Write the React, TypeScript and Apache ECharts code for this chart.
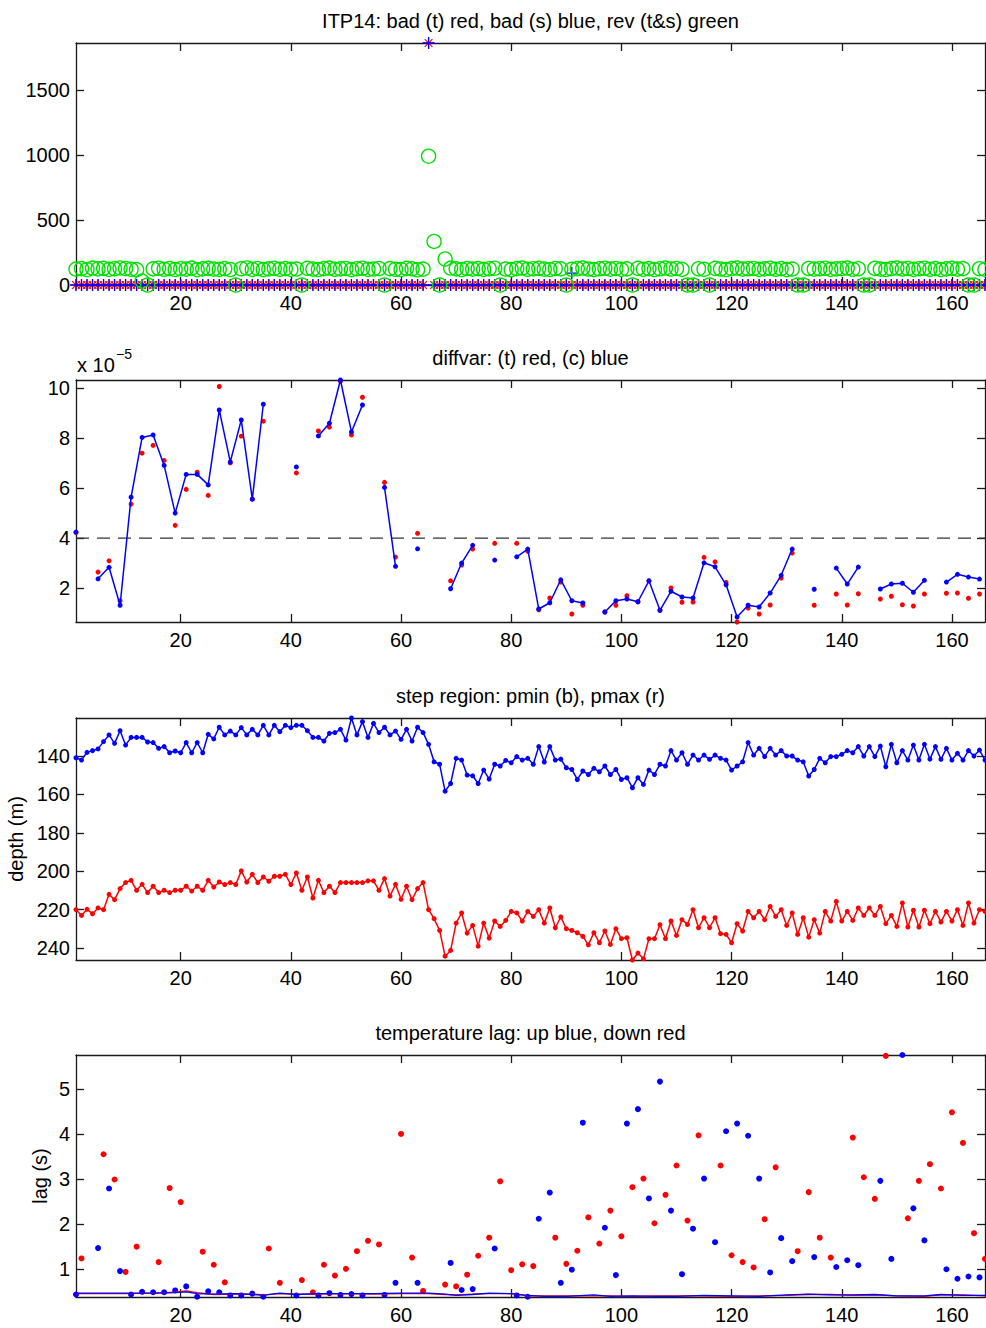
import React, { useEffect, useRef } from "react";
import * as echarts from "echarts";

const FONT = "'Liberation Sans', Arial, Helvetica, sans-serif";

// ---------- shared ----------
const profiles = Array.from({ length: 166 }, (_, i) => i + 1);
const oddProfiles = Array.from({ length: 83 }, (_, i) => 2 * i + 1);
const evenProfiles = Array.from({ length: 83 }, (_, i) => 2 * i + 2);
const xTicks = [20, 40, 60, 80, 100, 120, 140, 160];

// ---------- panel 1: bad / rev counts ----------
const titles = [
  "ITP14: bad (t) red, bad (s) blue, rev (t&s) green",
  "diffvar: (t) red, (c) blue",
  "step region: pmin (b), pmax (r)",
  "temperature lag: up blue, down red",
];
const p1YTicks = [0, 500, 1000, 1500];
const badT = [
  0, 0, 0, 0, 0, 0, 0, 0, 0, 0,
  0, 0, 0, 0, 0, 0, 0, 0, 0, 0,
  0, 0, 0, 0, 0, 0, 0, 0, 0, 0,
  0, 0, 0, 0, 0, 0, 0, 0, 0, 0,
  0, 0, 0, 0, 0, 0, 0, 0, 0, 0,
  0, 0, 0, 0, 0, 0, 0, 0, 0, 0,
  0, 0, 0, 0, 1860, 0, 0, 0, 0, 0,
  0, 0, 0, 0, 0, 0, 0, 0, 0, 0,
  0, 0, 0, 0, 0, 0, 0, 0, 0, 0,
  0, 0, 0, 0, 0, 0, 0, 0, 0, 0,
  0, 0, 0, 0, 0, 0, 0, 0, 0, 0,
  0, 0, 0, 0, 0, 0, 0, 0, 0, 0,
  0, 0, 0, 0, 0, 0, 0, 0, 0, 0,
  0, 0, 0, 0, 0, 0, 0, 0, 0, 0,
  0, 0, 0, 0, 0, 0, 0, 0, 0, 0,
  0, 0, 0, 0, 0, 0, 0, 0, 0, 0,
  0, 0, 0, 0, 0, 0,
];
const badS = [
  0, 0, 0, 0, 0, 0, 0, 0, 0, 0,
  0, 0, 0, 0, 0, 0, 0, 0, 0, 0,
  0, 0, 0, 0, 0, 0, 0, 0, 0, 0,
  0, 0, 0, 0, 0, 0, 0, 0, 0, 0,
  0, 0, 0, 0, 0, 0, 0, 0, 0, 0,
  0, 0, 0, 0, 0, 0, 0, 0, 0, 0,
  0, 0, 0, 0, 1860, 0, 0, 0, 0, 0,
  0, 0, 0, 0, 0, 0, 0, 0, 0, 0,
  0, 0, 0, 0, 0, 0, 0, 0, 0, 0,
  92, 0, 0, 0, 0, 0, 0, 0, 0, 0,
  0, 0, 0, 0, 0, 0, 0, 0, 0, 0,
  0, 0, 0, 0, 0, 0, 0, 0, 0, 0,
  0, 0, 0, 0, 0, 0, 0, 0, 0, 0,
  0, 0, 0, 0, 0, 0, 0, 0, 0, 0,
  0, 0, 0, 0, 0, 0, 0, 0, 0, 0,
  0, 0, 0, 0, 0, 0, 0, 0, 0, 0,
  0, 0, 0, 0, 0, 0,
];
const revTS = [
  122, 126, 119, 130, 124, 128, 120, 125, 131, 127,
  121, 118, 30, 0, 124, 129, 121, 127, 119, 125,
  122, 130, 118, 124, 128, 122, 120, 126, 119, 0,
  125, 131, 120, 127, 118, 124, 129, 121, 126, 120,
  123, 0, 128, 122, 119, 126, 130, 121, 124, 127,
  118, 125, 129, 120, 123, 127, 0, 126, 121, 119,
  128, 124, 117, 122, 990, 335, 0, 200, 130, 124,
  119, 127, 122, 126, 120, 125, 129, 0, 123, 118,
  126, 130, 121, 125, 128, 122, 119, 127, 124, 0,
  121, 126, 130, 123, 118, 125, 129, 122, 127, 120,
  124, 0, 128, 121, 126, 119, 125, 130, 123, 127,
  120, 0, 0, 125, 121, 0, 128, 123, 119, 126,
  130, 122, 125, 127, 120, 124, 129, 121, 126, 118,
  123, 0, 0, 127, 122, 125, 129, 120, 124, 126,
  130, 121, 125, 0, 0, 128, 122, 119, 126, 130,
  123, 127, 120, 125, 129, 121, 126, 118, 124, 128,
  122, 126, 0, 0, 125, 120,
];

// ---------- panel 2: diffvar (x 1e-5), odd profiles ----------
const p2YTicks = [2, 4, 6, 8, 10];
const diffThreshold = 4;
const diffT = [
  4.22, null, 2.64, 3.09, 1.49, 5.36, 7.4, 7.71, 7.11, 4.51,
  5.95, 6.64, 5.71, 10.07, 7.01, 8.08, 5.56, 8.68, null, null,
  6.61, null, 8.29, 8.44, 10.28, 8.13, 9.64, null, 6.23, 3.24,
  null, 4.19, null, null, 2.29, 2.92, 3.56, null, 3.79, null,
  3.79, 3.47, 1.13, 1.6, 2.24, 0.96, 1.31, null, 1.04, 1.31,
  1.69, 1.45, 2.29, 1.11, 2.0, 1.43, 1.44, 3.23, 3.05, 2.23,
  0.64, 1.2, 0.96, 1.32, 2.4, 3.4, null, 1.31, null, 1.76,
  1.32, 1.77, null, 1.56, 1.67, 1.33, 1.28, 1.76, null, 1.79,
  1.8, 1.59, 1.76,
];
const diffC = [
  4.24, null, 2.37, 2.83, 1.31, 5.64, 8.03, 8.13, 6.91, 5.0,
  6.55, 6.55, 6.13, 9.13, 7.05, 8.73, 5.56, 9.36, null, null,
  6.85, null, 8.09, 8.6, 10.33, 8.25, 9.33, null, 6.03, 2.87,
  null, 3.57, null, null, 1.97, 3.0, 3.71, null, 3.12, null,
  3.25, 3.56, 1.16, 1.41, 2.33, 1.49, 1.4, null, 1.04, 1.49,
  1.56, 1.45, 2.29, 1.11, 1.87, 1.64, 1.6, 3.01, 2.85, 2.13,
  0.84, 1.31, 1.24, 1.8, 2.51, 3.56, null, 1.95, null, 2.8,
  2.16, 2.84, null, 1.96, 2.16, 2.19, 1.83, 2.31, null, 2.24,
  2.55, 2.44, 2.36,
];

// ---------- panel 3: step region depths ----------
const p3YTicks = [140, 160, 180, 200, 220, 240];
const pmin = [
  140.9, 142.1, 138.1, 137.2, 136.3, 132.5, 129.0, 133.4, 126.8, 134.3,
  130.3, 130.3, 130.3, 132.7, 133.0, 136.0, 135.1, 138.3, 137.4, 138.3,
  133.0, 138.3, 133.0, 138.3, 128.7, 131.1, 125.0, 129.0, 127.0, 129.0,
  125.2, 129.0, 126.1, 129.0, 124.0, 129.0, 124.0, 127.3, 124.0, 125.2,
  124.0, 124.0, 126.8, 130.3, 130.3, 132.2, 128.2, 127.8, 126.1, 131.7,
  120.2, 129.0, 122.1, 130.3, 123.0, 127.8, 125.0, 129.0, 127.0, 131.3,
  126.1, 132.2, 125.0, 127.8, 133.9, 143.0, 144.3, 158.3, 154.3, 141.2,
  142.1, 149.9, 150.3, 154.3, 147.3, 152.0, 144.3, 145.2, 142.3, 143.5,
  140.3, 142.1, 141.2, 144.3, 135.1, 143.1, 135.1, 142.1, 141.6, 146.1,
  147.0, 152.2, 147.8, 149.6, 146.4, 148.2, 145.2, 149.6, 147.0, 152.2,
  151.3, 156.5, 151.3, 154.8, 147.3, 149.6, 144.3, 145.2, 137.2, 142.1,
  138.3, 144.3, 139.5, 142.1, 139.5, 141.7, 139.5, 141.2, 142.1, 147.3,
  145.2, 143.0, 133.0, 139.5, 136.0, 140.3, 136.0, 139.5, 137.2, 140.0,
  140.0, 142.1, 143.0, 150.4, 147.0, 141.2, 143.5, 140.3, 140.3, 139.1,
  137.2, 138.3, 135.1, 140.0, 135.1, 140.3, 134.8, 145.6, 133.9, 143.5,
  137.2, 142.1, 134.3, 142.1, 133.9, 141.6, 135.1, 141.7, 136.0, 142.1,
  138.6, 142.1, 137.2, 140.0, 136.9, 142.1,
];
const pmax = [
  220.0, 223.0, 219.8, 222.1, 219.1, 220.0, 212.0, 214.8, 209.0, 205.9,
  204.7, 209.9, 206.8, 211.1, 207.8, 211.1, 209.9, 211.1, 209.9, 209.9,
  207.8, 210.3, 207.8, 209.9, 204.7, 208.2, 205.6, 206.9, 205.9, 206.9,
  199.8, 205.6, 201.6, 205.9, 203.0, 205.2, 202.6, 202.6, 201.6, 206.9,
  200.9, 209.9, 203.0, 213.9, 204.7, 211.1, 207.8, 211.1, 205.9, 205.9,
  205.9, 205.9, 205.9, 205.0, 205.0, 209.9, 203.8, 212.9, 206.8, 214.6,
  207.8, 214.8, 209.0, 205.9, 220.0, 224.7, 230.8, 244.2, 241.2, 227.0,
  221.7, 232.2, 228.2, 239.0, 227.0, 234.8, 225.9, 228.7, 225.6, 220.9,
  221.7, 225.9, 220.9, 223.5, 220.0, 227.0, 219.1, 229.4, 223.8, 229.9,
  230.8, 232.0, 233.9, 238.3, 232.0, 237.2, 231.1, 238.1, 229.9, 235.1,
  234.6, 246.2, 242.6, 245.6, 235.1, 235.1, 227.8, 235.1, 225.9, 233.4,
  225.2, 227.7, 220.0, 229.4, 224.2, 229.4, 224.2, 232.5, 232.9, 237.2,
  227.3, 231.1, 220.9, 224.2, 220.9, 225.2, 218.3, 223.5, 220.0, 228.2,
  221.7, 232.9, 224.2, 234.3, 225.2, 232.2, 220.9, 225.9, 215.7, 225.9,
  220.9, 225.6, 219.1, 223.0, 219.1, 223.0, 218.3, 227.3, 223.0, 228.7,
  216.5, 229.0, 220.3, 229.0, 220.3, 227.3, 220.9, 226.4, 220.9, 225.9,
  220.0, 228.2, 216.5, 227.0, 220.0, 220.9,
];

// ---------- panel 4: temperature lag (s) ----------
const p4YTicks = [1, 2, 3, 4, 5];
const lagUp = [
  0.44, null, 1.47, 2.79, 0.96, 0.44, 0.5, 0.49, 0.49, 0.53,
  0.62, 0.39, 0.51, 0.49, 0.42, 0.42, 0.46, 0.39, null, null,
  0.42, null, 0.42, 0.47, 0.43, 0.45, 0.42, null, 0.43, 0.7,
  null, 0.7, null, null, 1.14, 0.54, 0.56, null, 1.46, null,
  0.42, 0.39, 2.12, 2.7, 0.7, 0.99, 4.25, null, 1.92, 0.87,
  4.23, 4.55, 2.57, 5.16, 2.3, 0.89, 1.9, 3.01, 1.6, 4.06,
  4.23, 3.96, 3.01, 0.93, 1.69, 1.18, null, 1.27, null, 1.05,
  1.2, 1.09, null, 2.96, 1.23, 5.75, 2.35, 1.64, null, 1.0,
  0.79, 0.84, 0.82,
];
const lagDown = [
  1.24, null, 3.55, 2.99, 0.94, 1.5, null, 1.16, 2.8, 2.49,
  null, 1.39, 1.1, 0.71, null, null, null, 1.46, 0.7, null,
  0.76, 0.49, 1.1, 0.86, 1.01, 1.4, 1.63, 1.55, null, 4.0,
  1.26, 0.52, null, 0.66, 0.62, 0.88, 1.3, 1.7, 2.95, 0.98,
  1.11, 1.07, null, 1.7, 1.12, 1.41, 2.15, 1.57, 2.3, 1.73,
  2.82, 3.01, 2.02, 2.65, 3.3, 2.08, 3.97, null, 3.3, 1.31,
  1.16, 1.04, 2.11, 3.26, null, 1.4, 2.71, 1.7, 1.26, null,
  3.92, 3.04, 2.56, 5.73, null, 2.13, 2.96, 3.33, 2.79, 4.48,
  3.8, 1.8, 1.23,
];
const lagLineX = [1, 5, 10, 15, 19, 21, 23, 26, 30, 33, 35, 38, 41, 45, 50, 55, 60, 65, 68, 70, 73, 76, 80, 83, 86, 90, 95, 98, 102, 106, 110, 115, 120, 125, 130, 134, 138, 142, 146, 150, 155, 158, 162, 166];
const lagLineUp = [0.47, 0.47, 0.47, 0.47, 0.48, 0.5, 0.46, 0.45, 0.46, 0.44, 0.42, 0.47, 0.44, 0.46, 0.46, 0.46, 0.47, 0.47, 0.45, 0.42, 0.44, 0.47, 0.46, 0.42, 0.4, 0.4, 0.43, 0.4, 0.41, 0.4, 0.4, 0.42, 0.41, 0.4, 0.43, 0.45, 0.43, 0.43, 0.44, 0.41, 0.41, 0.44, 0.42, 0.42];
const lagLineDown = [0.46, 0.46, 0.46, 0.47, 0.49, 0.52, 0.48, 0.44, 0.45, 0.45, 0.43, 0.46, 0.45, 0.45, 0.46, 0.45, 0.46, 0.46, 0.44, 0.43, 0.45, 0.46, 0.46, 0.41, 0.41, 0.41, 0.41, 0.41, 0.4, 0.41, 0.41, 0.41, 0.4, 0.41, 0.42, 0.44, 0.44, 0.42, 0.43, 0.41, 0.4, 0.43, 0.43, 0.41];

// ---------- layout ----------
const PLOT_LEFT = 76;
const PLOT_RIGHT_GAP = 1;
const PLOT_H = 242;
const panelTops = [43, 380, 718, 1055];
const yRanges: [number, number][] = [
  [0, 1860],
  [0.64, 10.33],
  [120.2, 246.2],
  [0.385, 5.75],
];
const yTickSets = [p1YTicks, p2YTicks, p3YTicks, p4YTicks];
const X_MIN = 1;
const X_MAX = 166;

const AXIS_COLOR = "#1a1a1a";
const RED = "#ff0000";
const BLUE = "#0000ff";
const GREEN = "#00e000";
const STAR = "path://M0,-10L0,10M-10,0L10,0M-7,-7L7,7M-7,7L7,-7";
const PLUS = "path://M0,-10L0,10M-10,0L10,0";

const plainNum = (v: number) => String(v);

function xAxisFor(gi: number, position: "bottom" | "top") {
  return {
    type: "value",
    gridIndex: gi,
    position,
    min: X_MIN,
    max: X_MAX,
    axisLine: { show: true, onZero: false, lineStyle: { color: AXIS_COLOR, width: 1.3 } },
    axisTick: { show: true, inside: true, length: 8, customValues: xTicks, lineStyle: { color: AXIS_COLOR, width: 1.3 } },
    axisLabel: {
      show: position === "bottom",
      customValues: xTicks,
      formatter: plainNum,
      margin: 8,
      fontSize: 20,
      fontFamily: FONT,
      color: "#000",
    },
    splitLine: { show: false },
  };
}

function yAxisFor(gi: number, position: "left" | "right") {
  const [mn, mx] = yRanges[gi];
  const ticks = yTickSets[gi];
  return {
    type: "value",
    gridIndex: gi,
    position,
    min: mn,
    max: mx,
    inverse: gi === 2,
    axisLine: { show: true, onZero: false, lineStyle: { color: AXIS_COLOR, width: 1.3 } },
    axisTick: { show: true, inside: true, length: 8, customValues: ticks, lineStyle: { color: AXIS_COLOR, width: 1.3 } },
    axisLabel: {
      show: position === "left",
      customValues: ticks,
      formatter: plainNum,
      margin: 6,
      fontSize: 20,
      fontFamily: FONT,
      color: "#000",
    },
    splitLine: { show: false },
  };
}

const pair = (xs: number[], ys: (number | null)[]) => xs.map((x, i) => [x, ys[i] == null ? "-" : ys[i]]);
const pairSkip = (xs: number[], ys: (number | null)[]) =>
  xs.map((x, i) => [x, ys[i]]).filter((d) => d[1] != null);

function buildOption() {
  const xAxis: any[] = [];
  const yAxis: any[] = [];
  const grid: any[] = [];
  for (let g = 0; g < 4; g++) {
    grid.push({ left: PLOT_LEFT, right: PLOT_RIGHT_GAP, top: panelTops[g], height: PLOT_H, containLabel: false, outerBoundsMode: "none" });
    xAxis.push(xAxisFor(g, "bottom"), xAxisFor(g, "top"));
    yAxis.push(yAxisFor(g, "left"), yAxisFor(g, "right"));
  }
  const ax = (g: number) => ({ xAxisIndex: 2 * g, yAxisIndex: 2 * g });
  const plotCenterX = PLOT_LEFT + (986 - PLOT_RIGHT_GAP - PLOT_LEFT) / 2;

  const textBase = { fontFamily: FONT, fill: "#000" };
  const graphic: any[] = [
    ...titles.map((t, i) => ({
      type: "text",
      x: plotCenterX,
      y: panelTops[i] - 22.5,
      style: { ...textBase, text: t, fontSize: 20, textAlign: "center", textVerticalAlign: "middle" },
    })),
    { type: "text", x: 77, y: 365, style: { ...textBase, text: "x 10", fontSize: 20, textAlign: "left", textVerticalAlign: "middle" } },
    { type: "text", x: 116, y: 354, style: { ...textBase, text: "\u22125", fontSize: 14, textAlign: "left", textVerticalAlign: "middle" } },
    {
      type: "text",
      x: 16,
      y: panelTops[2] + PLOT_H / 2,
      rotation: Math.PI / 2,
      style: { ...textBase, text: "depth (m)", fontSize: 20, textAlign: "center", textVerticalAlign: "middle" },
    },
    {
      type: "text",
      x: 40,
      y: panelTops[3] + PLOT_H / 2,
      rotation: Math.PI / 2,
      style: { ...textBase, text: "lag (s)", fontSize: 20, textAlign: "center", textVerticalAlign: "middle" },
    },
  ];

  const series: any[] = [
    // panel 1
    {
      type: "scatter", ...ax(0), name: "bad (t)", clip: false,
      data: pair(profiles, badT), symbol: STAR, symbolSize: 11,
      itemStyle: { color: RED, borderColor: RED, borderWidth: 1.2, opacity: 1 },
    },
    {
      type: "scatter", ...ax(0), name: "bad (s)", clip: false,
      data: pair(profiles, badS), symbol: PLUS, symbolSize: 12,
      itemStyle: { color: BLUE, borderColor: BLUE, borderWidth: 1.3, opacity: 1 },
    },
    {
      type: "scatter", ...ax(0), name: "rev (t&s)", clip: false,
      data: pair(profiles, revTS), symbol: "circle", symbolSize: 14,
      itemStyle: { color: "rgba(0,0,0,0)", borderColor: GREEN, borderWidth: 1.4, opacity: 1 },
    },
    // panel 2
    {
      type: "line", ...ax(1), name: "threshold", clip: false, symbol: "none",
      data: [[X_MIN, diffThreshold], [X_MAX, diffThreshold]],
      lineStyle: { color: "#333", width: 1.3, type: [13, 8] },
    },
    {
      type: "scatter", ...ax(1), name: "diffvar (t)", clip: false,
      data: pairSkip(oddProfiles, diffT), symbol: "circle", symbolSize: 5,
      itemStyle: { color: RED, opacity: 1 },
    },
    {
      type: "line", ...ax(1), name: "diffvar (c)", clip: false,
      data: pair(oddProfiles, diffC), symbol: "circle", symbolSize: 5, showSymbol: true,
      connectNulls: false,
      itemStyle: { color: BLUE, opacity: 1 }, lineStyle: { color: BLUE, width: 1.5 },
    },
    // panel 3
    {
      type: "line", ...ax(2), name: "pmin", clip: false,
      data: pair(profiles, pmin), symbol: "circle", symbolSize: 5, showSymbol: true,
      itemStyle: { color: BLUE, opacity: 1 }, lineStyle: { color: BLUE, width: 1.5 },
    },
    {
      type: "line", ...ax(2), name: "pmax", clip: false,
      data: pair(profiles, pmax), symbol: "circle", symbolSize: 5, showSymbol: true,
      itemStyle: { color: RED, opacity: 1 }, lineStyle: { color: RED, width: 1.5 },
    },
    // panel 4
    {
      type: "line", ...ax(3), name: "lag down line", clip: false, symbol: "none",
      data: pair(lagLineX, lagLineDown), lineStyle: { color: RED, width: 1.3 },
    },
    {
      type: "line", ...ax(3), name: "lag up line", clip: false, symbol: "none",
      data: pair(lagLineX, lagLineUp), lineStyle: { color: BLUE, width: 1.3 },
    },
    {
      type: "scatter", ...ax(3), name: "lag down", clip: false,
      data: pairSkip(evenProfiles, lagDown), symbol: "circle", symbolSize: 6,
      itemStyle: { color: RED, opacity: 1 },
    },
    {
      type: "scatter", ...ax(3), name: "lag up", clip: false,
      data: pairSkip(oddProfiles, lagUp), symbol: "circle", symbolSize: 6,
      itemStyle: { color: BLUE, opacity: 1 },
    },
  ];

  return {
    animation: false,
    backgroundColor: "#ffffff",
    textStyle: { fontFamily: FONT },
    grid,
    xAxis,
    yAxis,
    graphic,
    series,
  };
}

export default function App() {
  const ref = useRef<HTMLDivElement>(null);
  useEffect(() => {
    if (!ref.current) return;
    const chart = echarts.init(ref.current, null, { renderer: "svg" });
    chart.setOption(buildOption() as any);
    return () => chart.dispose();
  }, []);
  return (
    <div
      ref={ref}
      style={{ position: "absolute", left: 0, top: 0, width: 986, height: 1328, background: "#fff" }}
    />
  );
}
